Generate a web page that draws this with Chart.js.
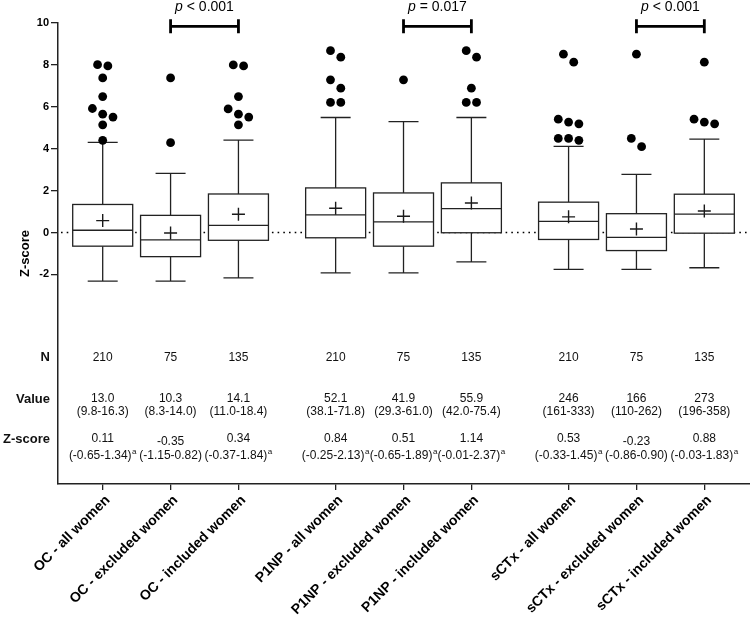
<!DOCTYPE html>
<html><head><meta charset="utf-8">
<script src="https://cdn.jsdelivr.net/npm/chart.js@4.4.1/dist/chart.umd.min.js"></script>
<style>html,body{margin:0;padding:0;background:#fff;overflow:hidden;}canvas{display:block;}</style>
</head><body><canvas id="c" width="750" height="617"></canvas>
<script>
// ---------- data ----------
const categories = ['OC - all women','OC - excluded women','OC - included women',
  'P1NP - all women','P1NP - excluded women','P1NP - included women',
  'sCTx - all women','sCTx - excluded women','sCTx - included women'];
const q1 = [-0.65, -1.15, -0.37, -0.25, -0.65, -0.01, -0.33, -0.86, -0.03];
const median = [0.11, -0.35, 0.34, 0.84, 0.51, 1.14, 0.53, -0.23, 0.88];
const q3 = [1.34, 0.82, 1.84, 2.13, 1.89, 2.37, 1.45, 0.90, 1.83];
const whiskerLow = [-2.32, -2.32, -2.16, -1.92, -1.92, -1.40, -1.76, -1.76, -1.68];
const whiskerHigh = [4.30, 2.82, 4.41, 5.49, 5.29, 5.49, 4.11, 2.78, 4.46];
const means = [0.57, -0.02, 0.87, 1.16, 0.78, 1.41, 0.75, 0.17, 1.03];
const outliers = [
  [8.01, 7.95, 7.38, 6.49, 5.92, 5.65, 5.51, 5.14, 4.40],
  [7.38, 4.29],
  [8.00, 7.95, 6.49, 5.90, 5.65, 5.51, 5.14],
  [8.68, 8.37, 7.29, 6.89, 6.21, 6.21],
  [7.29],
  [8.68, 8.37, 6.89, 6.21, 6.21],
  [8.51, 8.13, 5.41, 5.27, 5.19, 4.49, 4.49, 4.40],
  [8.51, 4.49, 4.10],
  [8.13, 5.41, 5.27, 5.19]
];
const nValues = ['210','75','135','210','75','135','210','75','135'];
const valueMedian = ['13.0','10.3','14.1','52.1','41.9','55.9','246','166','273'];
const valueIQR = ['(9.8-16.3)','(8.3-14.0)','(11.0-18.4)','(38.1-71.8)','(29.3-61.0)','(42.0-75.4)','(161-333)','(110-262)','(196-358)'];
const zMedian = ['0.11','-0.35','0.34','0.84','0.51','1.14','0.53','-0.23','0.88'];
const zIQR = ['(-0.65-1.34)','(-1.15-0.82)','(-0.37-1.84)','(-0.25-2.13)','(-0.65-1.89)','(-0.01-2.37)','(-0.33-1.45)','(-0.86-0.90)','(-0.03-1.83)'];
const zFootnote = ['a','','a','a','a','a','a','','a'];
const rowLabels = ['N','Value','Z-score'];
const yTickValues = [-2, 0, 2, 4, 6, 8, 10];
const compFrom = [1, 4, 7];
const compTo = [2, 5, 8];
const compOp = ['<', '=', '<'];
const compP = ['0.001', '0.017', '0.001'];

// ---------- layout constants ----------
const GROUP_STEP = 3.432;
const pos = i => Math.floor(i / 3) * GROUP_STEP + (i % 3);
const BOX_WIDTH = 0.884, CAP_WIDTH = 0.442;
const SWARM_STEP = 10.3, SWARM_ROW = 10;
const ROW_N = -5.95, ROW_VALUE = -7.95, ROW_Z = -9.86, BRACKET_Y = 9.84;
const FONT = '"Liberation Sans", Arial, Helvetica, sans-serif';

Chart.defaults.font.family = FONT;
Chart.defaults.color = '#000';

const outlierPoints = [], outlierCat = [];
outliers.forEach((arr, i) => arr.forEach(v => { outlierPoints.push({x: pos(i), y: v}); outlierCat.push(i); }));

const boxPlugin = {
  id: 'boxes',
  afterDatasetsUpdate(chart) {
    const meta = chart.getDatasetMeta(1);
    const xs = chart.scales.x;
    const byCat = {};
    meta.data.forEach((el, k) => { const c = outlierCat[k]; (byCat[c] = byCat[c] || []).push(el); });
    Object.keys(byCat).forEach(c => {
      const els = byCat[c].slice().sort((a, b) => a.y - b.y);
      const cx = xs.getPixelForValue(pos(+c));
      let row = [];
      const flush = () => { row.forEach((el, k) => { el.x = cx + (k - (row.length - 1) / 2) * SWARM_STEP; }); row = []; };
      els.forEach(el => { if (row.length && el.y - row[0].y > SWARM_ROW) flush(); row.push(el); });
      flush();
    });
  },
  beforeDatasetsDraw(chart) {
    const {ctx, chartArea: a, scales: {x, y}} = chart;
    ctx.save();
    const y0 = y.getPixelForValue(0);
    ctx.strokeStyle = '#000'; ctx.lineWidth = 1.6; ctx.setLineDash([1.6, 4.1]);
    ctx.beginPath(); ctx.moveTo(a.left + 3, y0); ctx.lineTo(a.right, y0); ctx.stroke();
    ctx.setLineDash([]);
    const unit = x.getPixelForValue(1) - x.getPixelForValue(0);
    const py = v => y.getPixelForValue(v);
    categories.forEach((c, i) => {
      const cx = x.getPixelForValue(pos(i));
      const hw = BOX_WIDTH * unit / 2, cw = CAP_WIDTH * unit / 2;
      ctx.strokeStyle = '#222'; ctx.lineWidth = 1.3;
      ctx.beginPath();
      ctx.moveTo(cx, py(q3[i])); ctx.lineTo(cx, py(whiskerHigh[i]));
      ctx.moveTo(cx - cw, py(whiskerHigh[i])); ctx.lineTo(cx + cw, py(whiskerHigh[i]));
      ctx.moveTo(cx, py(q1[i])); ctx.lineTo(cx, py(whiskerLow[i]));
      ctx.moveTo(cx - cw, py(whiskerLow[i])); ctx.lineTo(cx + cw, py(whiskerLow[i]));
      ctx.stroke();
      const top = py(q3[i]), bot = py(q1[i]);
      ctx.fillStyle = '#fff';
      ctx.fillRect(cx - hw, top, 2 * hw, bot - top);
      ctx.strokeRect(cx - hw, top, 2 * hw, bot - top);
      ctx.beginPath(); ctx.moveTo(cx - hw, py(median[i])); ctx.lineTo(cx + hw, py(median[i])); ctx.stroke();
    });
    ctx.restore();
  },
  afterDraw(chart) {
    const {ctx, chartArea: a, scales: {x, y}} = chart;
    ctx.save();
    ctx.fillStyle = '#111';
    ctx.textBaseline = 'middle';
    ctx.textAlign = 'right';
    ctx.font = 'bold 13px ' + FONT;
    [ROW_N, ROW_VALUE, ROW_Z].forEach((v, k) => ctx.fillText(rowLabels[k], a.left - 8, y.getPixelForValue(v)));
    const yN = y.getPixelForValue(ROW_N), yV = y.getPixelForValue(ROW_VALUE), yZ = y.getPixelForValue(ROW_Z);
    ctx.textAlign = 'center';
    categories.forEach((c, i) => {
      const cx = x.getPixelForValue(pos(i));
      ctx.font = '12px ' + FONT;
      ctx.fillText(nValues[i], cx, yN);
      ctx.fillText(valueMedian[i], cx, yV);
      ctx.fillText(valueIQR[i], cx, yV + 13);
      ctx.fillText(zMedian[i], cx, yZ + (zFootnote[i] ? 0 : 3));
      const w1 = ctx.measureText(zIQR[i]).width;
      ctx.font = '8px ' + FONT;
      const w2 = zFootnote[i] ? ctx.measureText(zFootnote[i]).width + 0.5 : 0;
      const start = cx - (w1 + w2) / 2;
      ctx.textAlign = 'left';
      ctx.font = '12px ' + FONT;
      ctx.fillText(zIQR[i], start, yZ + 17);
      if (zFootnote[i]) { ctx.font = '8px ' + FONT; ctx.fillText(zFootnote[i], start + w1 + 0.5, yZ + 13); }
      ctx.textAlign = 'center';
    });
    const by = y.getPixelForValue(BRACKET_Y);
    ctx.strokeStyle = '#000'; ctx.lineWidth = 2.8; ctx.lineCap = 'butt';
    compFrom.forEach((f, k) => {
      const x1 = x.getPixelForValue(pos(f)), x2 = x.getPixelForValue(pos(compTo[k]));
      ctx.beginPath();
      ctx.moveTo(x1, by); ctx.lineTo(x2, by);
      ctx.moveTo(x1, by - 7); ctx.lineTo(x1, by + 7);
      ctx.moveTo(x2, by - 7); ctx.lineTo(x2, by + 7);
      ctx.stroke();
      const ital = 'italic 14px ' + FONT, reg = '14px ' + FONT;
      const rest = ' ' + compOp[k] + ' ' + compP[k];
      ctx.font = ital; const wp = ctx.measureText('p').width;
      ctx.font = reg; const wr = ctx.measureText(rest).width;
      const sx = (x1 + x2) / 2 - (wp + wr) / 2;
      ctx.textAlign = 'left'; ctx.fillStyle = '#000';
      ctx.font = ital; ctx.fillText('p', sx, by - 19);
      ctx.font = reg; ctx.fillText(rest, sx + wp, by - 19);
    });
    ctx.restore();
  }
};

new Chart(document.getElementById('c'), {
  type: 'scatter',
  data: { datasets: [
    { label: 'Mean', data: means.map((m, i) => ({x: pos(i), y: m})),
      pointStyle: 'cross', pointRadius: 6.5, pointBorderColor: '#1a1a1a', pointBorderWidth: 1.4,
      pointBackgroundColor: 'rgba(0,0,0,0)', clip: false },
    { label: 'Outliers', data: outlierPoints,
      pointStyle: 'circle', pointRadius: 4.4, pointBackgroundColor: '#000', pointBorderWidth: 0, pointBorderColor: '#000', clip: false }
  ]},
  options: {
    responsive: false, animation: false, events: [], devicePixelRatio: 1,
    layout: { autoPadding: false, padding: { top: 23, right: 0, bottom: 0, left: 0 } },
    plugins: { legend: { display: false }, tooltip: { enabled: false } },
    scales: {
      x: {
        type: 'linear', min: -0.6586, max: 9.537, offset: false,
        afterBuildTicks: s => { s.ticks = categories.map((c, i) => ({ value: pos(i) })); },
        afterFit: s => { s.height = 133; s.paddingRight = 0; s.paddingLeft = 0; },
        ticks: { autoSkip: false, minRotation: 45, maxRotation: 45, padding: 2, labelOffset: 5,
          font: { size: 14, weight: 'bold' }, color: '#000',
          callback: (v, idx) => categories[idx] },
        grid: { drawOnChartArea: false, drawTicks: true, tickLength: 6, color: '#222', lineWidth: 1.3 },
        border: { display: true, color: '#222', width: 1.5 }
      },
      y: {
        min: -12, max: 10,
        afterBuildTicks: s => { s.ticks = yTickValues.map(v => ({ value: v })); },
        afterFit: s => { s.width = 58; },
        ticks: { padding: 2, font: { size: 11, weight: 'bold' }, color: '#000' },
        grid: { drawOnChartArea: false, drawTicks: true, tickLength: 7, color: '#222', lineWidth: 1.3 },
        border: { display: true, color: '#222', width: 1.5 },
        title: { display: true, text: 'Z-score', font: { size: 13, weight: 'bold' }, color: '#000', padding: { top: 18, bottom: 0 } }
      }
    }
  },
  plugins: [boxPlugin]
});
</script></body></html>
